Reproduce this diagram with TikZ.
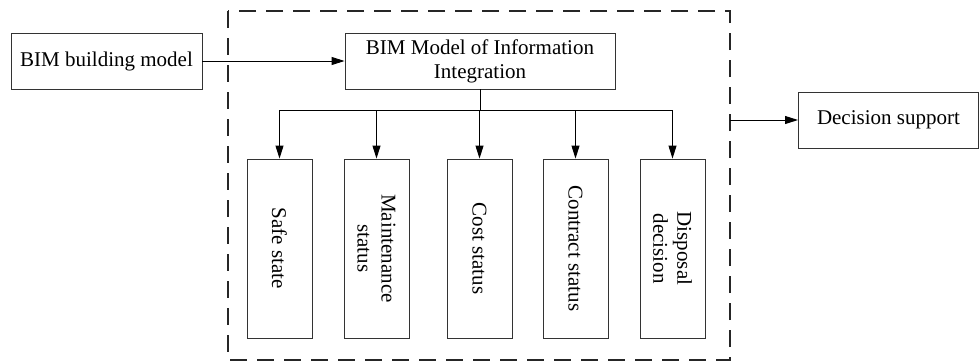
\documentclass[tikz,border=0pt]{standalone}
\usepackage{fontspec}
\setmainfont{Liberation Serif}
\usetikzlibrary{arrows.meta,positioning}
\begin{document}
\begin{tikzpicture}[x=1pt,y=-1pt,
  box/.style={draw=black!80,line width=0.9pt,inner sep=0pt,
    font=\fontsize{21}{24}\selectfont,align=center},
  vbox/.style={box,minimum width=65pt,minimum height=179pt},
  vtext/.style={rotate=-90,font=\fontsize{21}{24}\selectfont,align=center,inner sep=0pt},
  link/.style={line width=0.9pt,-{Triangle[length=13pt,width=8pt]}},
  frame/.style={line width=2pt,dash pattern=on 17pt off 10pt,black!85}
]
\useasboundingbox (0,0) rectangle (979,362);
% dashed frame around the integration part
\draw[frame] (228,11) rectangle (730,360);
\coordinate (frameL) at (228,61);
\coordinate (frameR) at (730,120);

% input and output boxes
\node[box,minimum width=191pt,minimum height=56pt] (bim) at (106.5,61) {BIM building model};
\node[box,minimum width=270pt,minimum height=56pt] (integ) at (480,61) {BIM Model of Information\\Integration};
\node[box,minimum width=180pt,minimum height=56pt,anchor=west] (dec) at (798,120) {Decision support};

% status boxes
\node[vbox] (s1) at (279.5,248.5) {};
\node[vbox] (s2) at (376.5,248.5) {};
\node[vbox] (s3) at (479.5,248.5) {};
\node[vbox] (s4) at (575.5,248.5) {};
\node[vbox] (s5) at (672.5,248.5) {};
\node[vtext] at (s1) {Safe state};
\node[vtext] at (s2) {Maintenance\\status};
\node[vtext] at (s3) {Cost status};
\node[vtext] at (s4) {Contract status};
\node[vtext] at (s5) {Disposal\\decision};

% connectors
\draw[link] (bim.east) -- (integ.west);
\draw[link] (frameR) -- (dec.west);
\coordinate (bus) at (480,110);
\draw[line width=0.9pt] (integ.south) -- (bus);
\draw[line width=0.9pt] (s1.north |- bus) -- (s5.north |- bus);
\foreach \s in {s1,s2,s3,s4,s5}
  \draw[link] (\s.north |- bus) -- (\s.north);
\end{tikzpicture}
\end{document}
